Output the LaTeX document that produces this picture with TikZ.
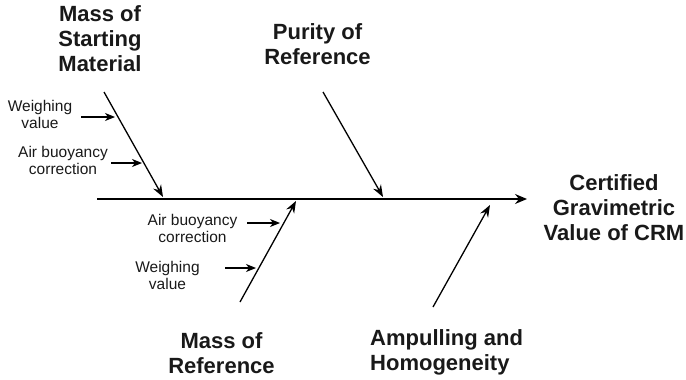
\documentclass[tikz,border=0pt]{standalone}
\usepackage{fontspec}
\setmainfont{Liberation Sans}
\usetikzlibrary{arrows.meta}
\tikzset{
  title/.style={font=\fontsize{22}{25}\selectfont\bfseries, align=center, inner sep=0pt, anchor=north, text=black!90},
  small/.style={font=\fontsize{15.5}{17}\selectfont, align=center, inner sep=0pt, anchor=north, text=black!90},
  spine/.style={line width=1.5pt, -{Stealth[length=12pt,width=10pt,inset=4pt]}},
  branch/.style={line width=1.3pt, -{Stealth[length=12pt,width=9pt,inset=4pt]}},
  sub/.style={line width=1.1pt, -{Stealth[length=10pt,width=8pt,inset=3pt]}}
}
\begin{document}
\begin{tikzpicture}[x=1pt,y=-1pt]
\useasboundingbox (0,0) rectangle (686,380);
% titles
\node[title] (smt) at (100,5) {Mass of\\Starting\\Material};
\node[title] (por) at (317.5,23) {Purity of\\Reference};
\node[title] (mor) at (221.5,332) {Mass of\\Reference};
\node[title, align=left, anchor=north west] (amp) at (370,329) {Ampulling and\\Homogeneity};
\node[title] (crm) at (614,174) {Certified\\Gravimetric\\Value of CRM};
% small labels
\node[small] (wv1) at (40,100.3) {Weighing\\value};
\node[small] (ab1) at (63,145.6) {Air buoyancy\\correction};
\node[small] (ab2) at (192.5,213.6) {Air buoyancy\\correction};
\node[small] (wv2) at (167.5,261.3) {Weighing\\value};
% coordinates
\coordinate (s0) at (97,199);
\coordinate (s1) at (527,199);
\coordinate (b1a) at (104,92);  \coordinate (b1b) at (163,197);
\coordinate (b2a) at (323,92);  \coordinate (b2b) at (383,197);
\coordinate (b3a) at (240,302); \coordinate (b3b) at (296,201);
\coordinate (b4a) at (433,307); \coordinate (b4b) at (490,205);
\coordinate (w1a) at (81,117);  \coordinate (w1b) at (115,117);
\coordinate (a1a) at (111,163); \coordinate (a1b) at (142,163);
\coordinate (a2a) at (247,223); \coordinate (a2b) at (280,223);
\coordinate (w2a) at (225,268); \coordinate (w2b) at (256,268);
% connectors
\draw[spine] (s0) -- (s1);
\draw[branch] (b1a) -- (b1b);
\draw[branch] (b2a) -- (b2b);
\draw[branch] (b3a) -- (b3b);
\draw[branch] (b4a) -- (b4b);
\draw[sub] (w1a) -- (w1b);
\draw[sub] (a1a) -- (a1b);
\draw[sub] (a2a) -- (a2b);
\draw[sub] (w2a) -- (w2b);
\end{tikzpicture}
\end{document}
